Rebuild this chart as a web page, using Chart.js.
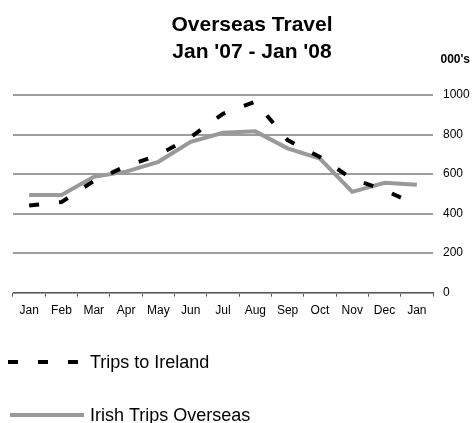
<!DOCTYPE html>
<html>
<head>
<meta charset="utf-8">
<script src="https://cdn.jsdelivr.net/npm/chart.js@4/dist/chart.umd.min.js"></script>
<style>
html,body{margin:0;padding:0;background:#fff;}
#wrap{width:473px;height:423px;position:relative;}
</style>
</head>
<body>
<div id="wrap"><canvas id="c" width="473" height="423"></canvas></div>
<script>
const categories = ['Jan','Feb','Mar','Apr','May','Jun','Jul','Aug','Sep','Oct','Nov','Dec','Jan'];
const tripsToIreland = [441, 458, 565, 640, 696, 787, 905, 966, 772, 686, 575, 519, 443];
const irishTripsOverseas = [494, 494, 586, 612, 662, 763, 809, 816, 730, 678, 510, 556, 546];
const yTicks = [0, 200, 400, 600, 800, 1000];
const titleLines = ['Overseas Travel', "Jan '07 - Jan '08"];
const unitLabel = "000's";
const seriesLabels = ['Trips to Ireland', 'Irish Trips Overseas'];

const FONT = 'Arial, "Liberation Sans", sans-serif';

const overlayPlugin = {
  id: 'overlay',
  afterDraw(chart) {
    const ctx = chart.ctx;
    ctx.save();
    ctx.fillStyle = '#000';
    ctx.textBaseline = 'middle';
    // title
    ctx.font = 'bold 21px ' + FONT;
    ctx.textAlign = 'center';
    ctx.fillText(titleLines[0], 252, 25);
    ctx.fillText(titleLines[1], 252, 52);
    // unit label
    ctx.font = 'bold 12px ' + FONT;
    ctx.textAlign = 'right';
    ctx.fillText(unitLabel, 470, 60);
    // legend
    const rows = [362, 415];
    chart.data.datasets.forEach((ds, i) => {
      const y = rows[i];
      ctx.save();
      ctx.strokeStyle = ds.borderColor;
      ctx.lineWidth = ds.borderWidth;
      ctx.lineCap = 'butt';
      ctx.setLineDash(ds.borderDash || []);
      ctx.beginPath();
      if (ds.borderDash && ds.borderDash.length) {
        ctx.moveTo(8, y); ctx.lineTo(81, y);
      } else {
        ctx.moveTo(10, y); ctx.lineTo(84, y);
      }
      ctx.stroke();
      ctx.restore();
      ctx.font = '18px ' + FONT;
      ctx.textAlign = 'left';
      ctx.fillStyle = '#000';
      ctx.fillText(ds.label, 90, y + 1);
    });
    ctx.restore();
  }
};

new Chart(document.getElementById('c'), {
  type: 'line',
  data: {
    labels: categories,
    datasets: [
      {
        label: seriesLabels[0],
        data: tripsToIreland,
        borderColor: '#000000',
        backgroundColor: '#000000',
        borderWidth: 4,
        borderDash: [10, 20],
        pointRadius: 0,
        tension: 0,
        fill: false
      },
      {
        label: seriesLabels[1],
        data: irishTripsOverseas,
        borderColor: '#999999',
        backgroundColor: '#999999',
        borderWidth: 4,
        pointRadius: 0,
        tension: 0,
        fill: false
      }
    ]
  },
  options: {
    responsive: false,
    animation: false,
    devicePixelRatio: 1,
    layout: { padding: { left: 13, right: 0, top: 95, bottom: 98 } },
    plugins: {
      legend: { display: false },
      title: { display: false },
      tooltip: { enabled: false }
    },
    scales: {
      x: {
        type: 'category',
        offset: true,
        grid: {
          offset: true,
          drawOnChartArea: false,
          drawTicks: true,
          tickLength: 4,
          color: '#555555',
          lineWidth: 1
        },
        border: { display: true, color: '#555555', width: 1 },
        ticks: {
          color: '#000',
          font: { family: FONT, size: 12 },
          padding: 7,
          maxRotation: 0,
          autoSkip: false
        }
      },
      y: {
        position: 'right',
        min: yTicks[0],
        max: yTicks[yTicks.length - 1],
        afterBuildTicks(axis) { axis.ticks = yTicks.map(v => ({ value: v })); },
        afterFit(axis) { axis.width = 40; },
        grid: {
          color: '#9d9d9d',
          lineWidth: 2,
          drawTicks: false
        },
        border: { display: false },
        ticks: {
          color: '#000',
          font: { family: FONT, size: 12 },
          padding: 10,
          callback: (v) => String(v)
        }
      }
    }
  },
  plugins: [overlayPlugin]
});
</script>
</body>
</html>
